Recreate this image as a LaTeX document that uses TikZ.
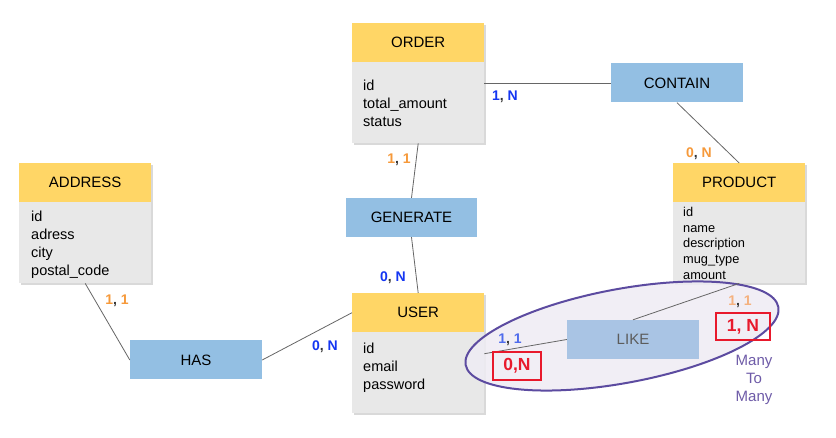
\documentclass[tikz,border=0pt]{standalone}
\usepackage{fontspec}
\setmainfont{Liberation Sans}
\usetikzlibrary{calc,shadows}
\definecolor{hdr}{HTML}{FFD666}
\definecolor{bodyg}{HTML}{E8E8E8}
\definecolor{relblue}{HTML}{93BFE3}
\definecolor{likeblue}{HTML}{A9C4E4}
\definecolor{connc}{HTML}{666666}
\definecolor{cblue}{HTML}{1436F2}
\definecolor{lblue}{HTML}{4F6BEC}
\definecolor{corange}{HTML}{F6993A}
\definecolor{lorange}{HTML}{F5B17E}
\definecolor{cred}{HTML}{E8192C}
\definecolor{cpurple}{HTML}{6E5BA8}
\definecolor{ellborder}{HTML}{5C4BA0}
\definecolor{ellfill}{HTML}{EFECF4}
\definecolor{darkc}{HTML}{333333}
\newcommand\crd[3]{\textcolor{#1}{#2}\textcolor{darkc}{,} \textcolor{#1}{#3}}
\begin{document}
\begin{tikzpicture}[x=1pt,y=-1pt,
  shad/.style={drop shadow={shadow xshift=1.5pt,shadow yshift=-1.5pt,fill=black,opacity=0.15}},
  hdrbox/.style={shad,fill=hdr,minimum width=132pt,minimum height=39pt,inner sep=0pt,anchor=north west,font=\fontsize{15}{18}\selectfont},
  bodybox/.style={shad,fill=bodyg,minimum width=132pt,inner sep=0pt,anchor=north west},
  relbox/.style={fill=relblue,minimum width=132pt,minimum height=39pt,inner sep=0pt,font=\fontsize{15}{18}\selectfont},
  attr/.style={anchor=base west,inner sep=0pt,font=\fontsize{14.5}{18}\selectfont},
  pattr/.style={anchor=base west,inner sep=0pt,font=\fontsize{12.8}{15}\selectfont},
  conn/.style={draw=connc,line width=0.8pt},
  card/.style={inner sep=0pt,font=\bfseries\fontsize{14}{16}\selectfont},
  redbox/.style={draw=cred,line width=2.5pt,inner sep=0pt,text=cred,font=\bfseries\fontsize{17.5}{20}\selectfont}]
\useasboundingbox (0,0) rectangle (836,438);
\fill[white] (0,0) rectangle (836,438);

% ORDER
\node[hdrbox] (order) at (352,23) {ORDER};
\node[bodybox,minimum height=81pt] (orderbody) at (352,62) {};
\foreach \t [count=\i] in {id,total\_amount,status}
  \node[attr] (ordattr\i) at ({363},{91+18*(\i-1)}) {\t};

% ADDRESS
\node[hdrbox] (address) at (19,163) {ADDRESS};
\node[bodybox,minimum height=81pt] (addressbody) at (19,202) {};
\foreach \t [count=\i] in {id,adress,city,postal\_code}
  \node[attr] (adrattr\i) at ({31},{222+18*(\i-1)}) {\t};

% PRODUCT
\node[hdrbox] (product) at (673,163) {PRODUCT};
\node[bodybox,minimum height=81pt] (productbody) at (673,202) {};
\foreach \t [count=\i] in {id,name,description,mug\_type,amount}
  \node[pattr] (prdattr\i) at ({683},{216.5+15.75*(\i-1)}) {\t};

% USER
\node[hdrbox] (user) at (352,293) {USER};
\node[bodybox,minimum height=81pt] (userbody) at (352,332) {};
\foreach \t [count=\i] in {id,email,password}
  \node[attr] (usrattr\i) at ({363},{354+18*(\i-1)}) {\t};

% relations
\node[relbox] (contain) at (677,83) {CONTAIN};
\node[relbox,minimum width=131pt] (generate) at (411.5,217.5) {GENERATE};
\node[relbox] (has) at (196,360) {HAS};

% many-to-many ellipse
\filldraw[fill=ellfill,fill opacity=0.85,draw=ellborder,line width=2pt]
  (622,336) ellipse [x radius=159pt,y radius=47pt,rotate=10.5];

% connectors
\draw[conn] (orderbody.east |- contain.west) -- (contain.west);
\draw[conn] (contain.south) -- (product.north);
\draw[conn] (orderbody.south) -- (generate.north);
\draw[conn] (generate.south) -- (user.north);
\draw[conn] (addressbody.south) -- (has.west);
\draw[conn] (has.east) -- (user.west);

\node[fill=likeblue,minimum width=132pt,minimum height=39pt,inner sep=0pt,text=darkc!80,font=\fontsize{15}{18}\selectfont] (like) at (633,339.5) {LIKE};
\draw[conn] ($(userbody.east)+(0,-19)$) -- (like.west);
\draw[conn] (like.north) -- (productbody.south);

% cardinalities
\node[card] (c1) at (505,97) {\crd{cblue}{1}{N}};
\node[card] (c2) at (699,154) {\crd{corange}{0}{N}};
\node[card] (c3) at (399,160) {\crd{corange}{1}{1}};
\node[card] (c4) at (393,278) {\crd{cblue}{0}{N}};
\node[card] (c5) at (117,301) {\crd{corange}{1}{1}};
\node[card] (c6) at (325,347) {\crd{cblue}{0}{N}};
\node[card] (c7) at (510,340) {\crd{lblue}{1}{1}};
\node[card] (c8) at (740,302) {\crd{lorange}{1}{1}};

\node[redbox,minimum width=48pt,minimum height=28pt] (r1) at (517,366) {0,N};
\node[redbox,minimum width=54pt,minimum height=27pt] (r2) at (743,326.5) {1, N};

\node[align=center,inner sep=0pt,text=cpurple,font=\fontsize{15}{18}\selectfont] (m2m) at (754,380) {Many\\To\\Many};
\end{tikzpicture}
\end{document}
